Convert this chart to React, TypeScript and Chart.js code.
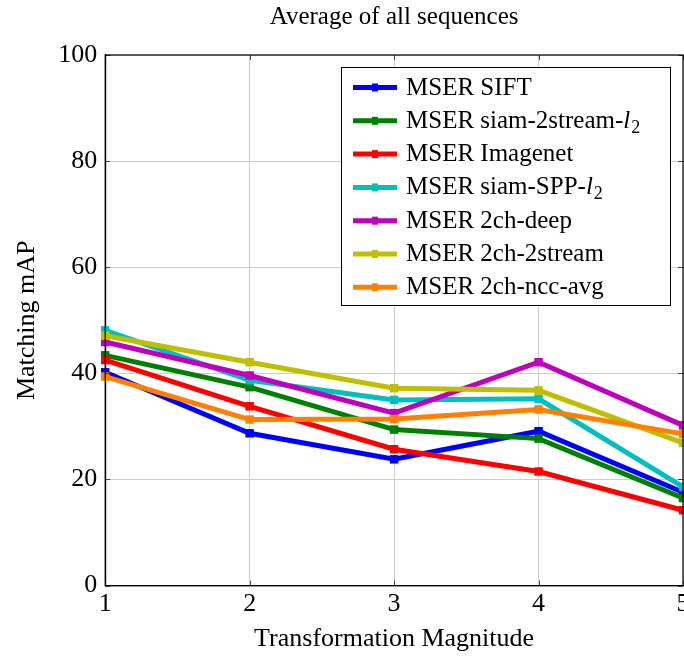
import React, { useEffect, useRef } from "react";
import { Chart, registerables } from "chart.js";

Chart.register(...registerables);

const chartTitle = "Average of all sequences";
const xAxisTitle = "Transformation Magnitude";
const yAxisTitle = "Matching mAP";
const magnitudes = [1, 2, 3, 4, 5];
const yTickValues = [0, 20, 40, 60, 80, 100];
const seriesNames = [
  "MSER SIFT",
  "MSER siam-2stream-l_2",
  "MSER Imagenet",
  "MSER siam-SPP-l_2",
  "MSER 2ch-deep",
  "MSER 2ch-2stream",
  "MSER 2ch-ncc-avg",
];
const siftValues = [40.2, 28.7, 23.8, 29.1, 17.6];
const siam2streamValues = [43.4, 37.4, 29.4, 27.7, 16.5];
const imagenetValues = [42.5, 33.8, 25.7, 21.5, 14.2];
const siamSppValues = [48.1, 38.7, 35.0, 35.2, 18.6];
const deepValues = [45.9, 39.6, 32.5, 42.1, 30.2];
const twoStreamValues = [47.1, 42.1, 37.2, 36.8, 26.9];
const nccAvgValues = [39.4, 31.3, 31.4, 33.2, 28.6];
const seriesValues = [
  siftValues,
  siam2streamValues,
  imagenetValues,
  siamSppValues,
  deepValues,
  twoStreamValues,
  nccAvgValues,
];
const seriesColors = ["#0000ff", "#008000", "#ff0000", "#00bfbf", "#bf00bf", "#bfbf00", "#ff8000"];

const FONT = "'Liberation Serif', 'Times New Roman', serif";
const LEGEND_SIZE = 25;

function drawLabel(ctx: CanvasRenderingContext2D, text: string, x: number, y: number) {
  const parts = text.split("l_2");
  ctx.font = `${LEGEND_SIZE}px ${FONT}`;
  ctx.fillText(parts[0], x, y);
  if (parts.length > 1) {
    let cx = x + ctx.measureText(parts[0]).width;
    ctx.font = `italic ${LEGEND_SIZE}px ${FONT}`;
    ctx.fillText("l", cx, y);
    cx += ctx.measureText("l").width + 1;
    ctx.font = `${Math.round(LEGEND_SIZE * 0.72)}px ${FONT}`;
    ctx.fillText("2", cx, y + 5);
  }
}

const decorPlugin = {
  id: "decor",
  afterDatasetsDraw(chart: any) {
    const ctx: CanvasRenderingContext2D = chart.ctx;
    const ca = chart.chartArea;
    const xs = chart.scales.x;
    const ys = chart.scales.y;
    ctx.save();
    // tick marks inside
    ctx.strokeStyle = "#444";
    ctx.lineWidth = 1;
    ctx.beginPath();
    for (const v of magnitudes) {
      const px = Math.round(xs.getPixelForValue(v)) + 0.5;
      ctx.moveTo(px, ca.bottom);
      ctx.lineTo(px, ca.bottom - 5);
      ctx.moveTo(px, ca.top);
      ctx.lineTo(px, ca.top + 5);
    }
    for (const v of yTickValues) {
      const py = Math.round(ys.getPixelForValue(v)) + 0.5;
      ctx.moveTo(ca.left, py);
      ctx.lineTo(ca.left + 5, py);
      ctx.moveTo(ca.right, py);
      ctx.lineTo(ca.right - 5, py);
    }
    ctx.stroke();
    // axis box
    ctx.strokeStyle = "#000";
    ctx.lineWidth = 1.2;
    ctx.strokeRect(ca.left, ca.top, ca.right - ca.left, ca.bottom - ca.top);

    // title
    ctx.fillStyle = "#000";
    ctx.font = `25px ${FONT}`;
    ctx.textAlign = "center";
    ctx.textBaseline = "alphabetic";
    ctx.fillText(chartTitle, (ca.left + ca.right) / 2, 24);

    // legend
    const bx = ca.right - 342;
    const by = ca.top + 12;
    const bw = 329;
    const bh = 238;
    ctx.fillStyle = "#fff";
    ctx.fillRect(bx, by, bw, bh);
    ctx.strokeStyle = "#000";
    ctx.lineWidth = 1;
    ctx.strokeRect(bx + 0.5, by + 0.5, bw, bh);
    ctx.textAlign = "left";
    ctx.textBaseline = "alphabetic";
    chart.data.datasets.forEach((ds: any, i: number) => {
      const base = by + 27.5 + i * 33.3;
      const cy = base - 7;
      const color = seriesColors[i];
      ctx.strokeStyle = color;
      ctx.lineWidth = 5;
      ctx.beginPath();
      ctx.moveTo(bx + 12, cy);
      ctx.lineTo(bx + 56, cy);
      ctx.stroke();
      ctx.fillStyle = color;
      ctx.fillRect(bx + 34 - 3, cy - 4, 6, 8);
      ctx.fillStyle = "#000";
      drawLabel(ctx, ds.label, bx + 65, base);
    });
    ctx.restore();
  },
};

export default function App() {
  const ref = useRef<HTMLCanvasElement>(null);
  useEffect(() => {
    if (!ref.current) return;
    const chart = new Chart(ref.current, {
      type: "line",
      data: {
        datasets: seriesNames.map((name, i) => ({
          label: name,
          data: magnitudes.map((m, j) => ({ x: m, y: seriesValues[i][j] })),
          borderColor: seriesColors[i],
          backgroundColor: seriesColors[i],
          borderWidth: 5,
          pointStyle: "rect",
          pointRadius: 6,
          pointBorderWidth: 0,
          tension: 0,
          fill: false,
          clip: false,
          order: seriesNames.length - i,
        })),
      },
      options: {
        responsive: false,
        animation: false,
        layout: { padding: { top: 55, right: 17, bottom: 1, left: 12 } },
        plugins: {
          legend: { display: false },
          title: { display: false },
          tooltip: { enabled: false },
        },
        scales: {
          x: {
            type: "linear",
            min: 1,
            max: 5,
            ticks: {
              stepSize: 1,
              color: "#000",
              font: { family: FONT, size: 26 },
              padding: 3,
              maxRotation: 0,
            },
            grid: { color: "#cccccc", lineWidth: 1, drawTicks: false },
            border: { color: "#000", width: 1.2 },
            title: {
              display: true,
              text: xAxisTitle,
              color: "#000",
              font: { family: FONT, size: 26 },
              padding: { top: 1, bottom: 0 },
            },
          },
          y: {
            min: 0,
            max: 100,
            ticks: {
              stepSize: 20,
              color: "#000",
              font: { family: FONT, size: 26 },
              padding: 8,
            },
            grid: { color: "#cccccc", lineWidth: 1, drawTicks: false },
            border: { color: "#000", width: 1.2 },
            title: {
              display: true,
              text: yAxisTitle,
              color: "#000",
              font: { family: FONT, size: 26 },
              padding: { top: 0, bottom: 7 },
            },
          },
        },
      },
      plugins: [decorPlugin],
    });
    return () => chart.destroy();
  }, []);
  return (
    <div style={{ position: "fixed", left: 0, top: 0, width: 684, height: 656, overflow: "hidden", background: "#fff" }}>
      <canvas ref={ref} width={700} height={656} style={{ display: "block", width: 700, height: 656 }} />
    </div>
  );
}
